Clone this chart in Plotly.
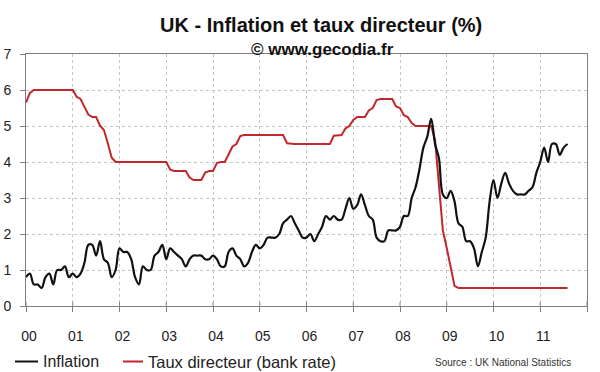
import plotly.graph_objects as go

# ---- data (monthly, Jan 2000 - Aug 2011) ----
inflation = [
    0.8, 0.9, 0.6, 0.6, 0.5, 0.8, 0.9, 0.6, 1.0, 1.0, 1.1, 0.8,   # 2000
    0.9, 0.8, 0.9, 1.2, 1.7, 1.7, 1.4, 1.8, 1.3, 1.2, 0.8, 1.0,   # 2001
    1.6, 1.5, 1.5, 1.3, 0.8, 0.6, 1.1, 1.0, 1.0, 1.4, 1.5, 1.7,   # 2002
    1.3, 1.6, 1.5, 1.4, 1.3, 1.1, 1.3, 1.4, 1.4, 1.4, 1.3, 1.3,   # 2003
    1.4, 1.3, 1.1, 1.1, 1.5, 1.6, 1.4, 1.3, 1.1, 1.2, 1.5, 1.7,   # 2004
    1.6, 1.7, 1.9, 1.9, 1.9, 2.0, 2.3, 2.4, 2.5, 2.3, 2.1, 1.9,   # 2005
    1.9, 2.0, 1.8, 2.0, 2.2, 2.5, 2.4, 2.5, 2.4, 2.4, 2.7, 3.0,   # 2006
    2.7, 2.8, 3.1, 2.8, 2.5, 2.4, 1.9, 1.8, 1.8, 2.1, 2.1, 2.1,   # 2007
    2.2, 2.5, 2.5, 3.0, 3.3, 3.8, 4.4, 4.7, 5.2, 4.5, 4.1, 3.1,   # 2008
    3.0, 3.2, 2.9, 2.3, 2.2, 1.8, 1.8, 1.6, 1.1, 1.5, 1.9, 2.9,   # 2009
    3.5, 3.0, 3.4, 3.7, 3.4, 3.2, 3.1, 3.1, 3.1, 3.2, 3.3, 3.7,   # 2010
    4.0, 4.4, 4.0, 4.5, 4.5, 4.2, 4.4, 4.5,                       # 2011
]
bank_rate = [
    5.65, 5.92, 6.0, 6.0, 6.0, 6.0, 6.0, 6.0, 6.0, 6.0, 6.0, 6.0,          # 2000
    6.0, 5.81, 5.75, 5.53, 5.32, 5.25, 5.25, 5.01, 4.89, 4.52, 4.12, 4.0,  # 2001
    4.0, 4.0, 4.0, 4.0, 4.0, 4.0, 4.0, 4.0, 4.0, 4.0, 4.0, 4.0,            # 2002
    4.0, 3.79, 3.75, 3.75, 3.75, 3.75, 3.57, 3.5, 3.5, 3.5, 3.71, 3.75,    # 2003
    3.75, 3.97, 4.0, 4.0, 4.21, 4.43, 4.5, 4.72, 4.75, 4.75, 4.75, 4.75,   # 2004
    4.75, 4.75, 4.75, 4.75, 4.75, 4.75, 4.75, 4.52, 4.5, 4.5, 4.5, 4.5,    # 2005
    4.5, 4.5, 4.5, 4.5, 4.5, 4.5, 4.5, 4.73, 4.75, 4.75, 4.93, 5.0,        # 2006
    5.17, 5.25, 5.25, 5.25, 5.43, 5.5, 5.72, 5.75, 5.75, 5.75, 5.75, 5.54, # 2007
    5.5, 5.30, 5.25, 5.08, 5.0, 5.0, 5.0, 5.0, 5.0, 4.61, 3.25, 2.10,      # 2008
    1.61, 1.07, 0.56, 0.5, 0.5, 0.5, 0.5, 0.5, 0.5, 0.5, 0.5, 0.5,         # 2009
    0.5, 0.5, 0.5, 0.5, 0.5, 0.5, 0.5, 0.5, 0.5, 0.5, 0.5, 0.5,            # 2010
    0.5, 0.5, 0.5, 0.5, 0.5, 0.5, 0.5, 0.5,                                # 2011
]
x_years = [i / 12 for i in range(len(inflation))]
tick_values = list(range(13))
tick_labels = ["00", "01", "02", "03", "04", "05", "06", "07", "08", "09", "10", "11", ""]
y_ticks = list(range(8))

FONT = "Arial, Liberation Sans, sans-serif"
RED = "#C1272D"

W, H = 600, 372
# plot area in window pixels (as in the reference)
L, R, T, B = 26, 587, 54, 306


def px(x):
    return (x - L) / (R - L)


def py(y):
    return (B - y) / (B - T)


fig = go.Figure()
fig.add_trace(go.Scatter(x=x_years, y=bank_rate, mode="lines", name="Taux directeur (bank rate)",
                         line=dict(color=RED, width=2), showlegend=False))
fig.add_trace(go.Scatter(x=x_years, y=inflation, mode="lines", name="Inflation",
                         line=dict(color="#111111", width=2.2, shape="spline", smoothing=1.0),
                         showlegend=False))

grid = dict(showgrid=True, gridcolor="#C4C4C4", gridwidth=1, griddash="3px,3px")
fig.update_xaxes(range=[0, 12], tickvals=tick_values, ticktext=tick_labels,
                 showline=True, linecolor="#7F7F7F", linewidth=1, mirror=True,
                 ticks="outside", ticklen=5, tickcolor="#7F7F7F",
                 ticklabelstandoff=12, ticklabelshift=3, automargin=False,
                 tickfont=dict(family=FONT, size=14, color="#222222"),
                 zeroline=False, **grid)
fig.update_yaxes(range=[0, 7], tickvals=y_ticks,
                 showline=True, linecolor="#7F7F7F", linewidth=1, mirror=True,
                 ticks="outside", ticklen=5, tickcolor="#7F7F7F",
                 ticklabelstandoff=6, automargin=False,
                 tickfont=dict(family=FONT, size=14, color="#222222"),
                 zeroline=False, **grid)

annotations = [
    dict(text="<b>UK - Inflation et taux directeur (%)</b>", x=px(321), y=py(25),
         font=dict(family=FONT, size=20, color="#111111")),
    dict(text="<b>© www.gecodia.fr</b>", x=px(322), y=py(49),
         font=dict(family=FONT, size=17, color="#111111")),
    dict(text="Inflation", x=px(41), y=py(361.5), xanchor="left",
         font=dict(family=FONT, size=16, color="#222222")),
    dict(text="Taux directeur (bank rate)", x=px(146), y=py(361.5), xanchor="left",
         font=dict(family=FONT, size=16.5, color="#222222")),
    dict(text="Source : UK National Statistics", x=px(573), y=py(362), xanchor="right",
         font=dict(family=FONT, size=10, color="#333333")),
]
for a in annotations:
    a.update(xref="paper", yref="paper", showarrow=False)
    a.setdefault("xanchor", "center")
    a["yanchor"] = "middle"

shapes = [
    dict(type="line", xref="paper", yref="paper", x0=px(15), x1=px(38), y0=py(361.5), y1=py(361.5),
         line=dict(color="#111111", width=2)),
    dict(type="line", xref="paper", yref="paper", x0=px(123), x1=px(143), y0=py(361.5), y1=py(361.5),
         line=dict(color=RED, width=2)),
]
# inner half of the crossing tick marks on the x axis
for t in tick_values:
    shapes.append(dict(type="line", xref="x", yref="paper", x0=t, x1=t, y0=0, y1=4 / (B - T),
                       line=dict(color="#7F7F7F", width=1)))

fig.update_layout(
    width=W, height=H,
    margin=dict(l=L, r=W - R, t=T, b=H - B, autoexpand=False),
    paper_bgcolor="white", plot_bgcolor="white",
    annotations=annotations, shapes=shapes,
    showlegend=False, hovermode=False,
)

fig.write_html("out.html", config={"displayModeBar": False, "staticPlot": True},
               post_script="document.body.style.margin='0';document.body.style.overflow='hidden';")
